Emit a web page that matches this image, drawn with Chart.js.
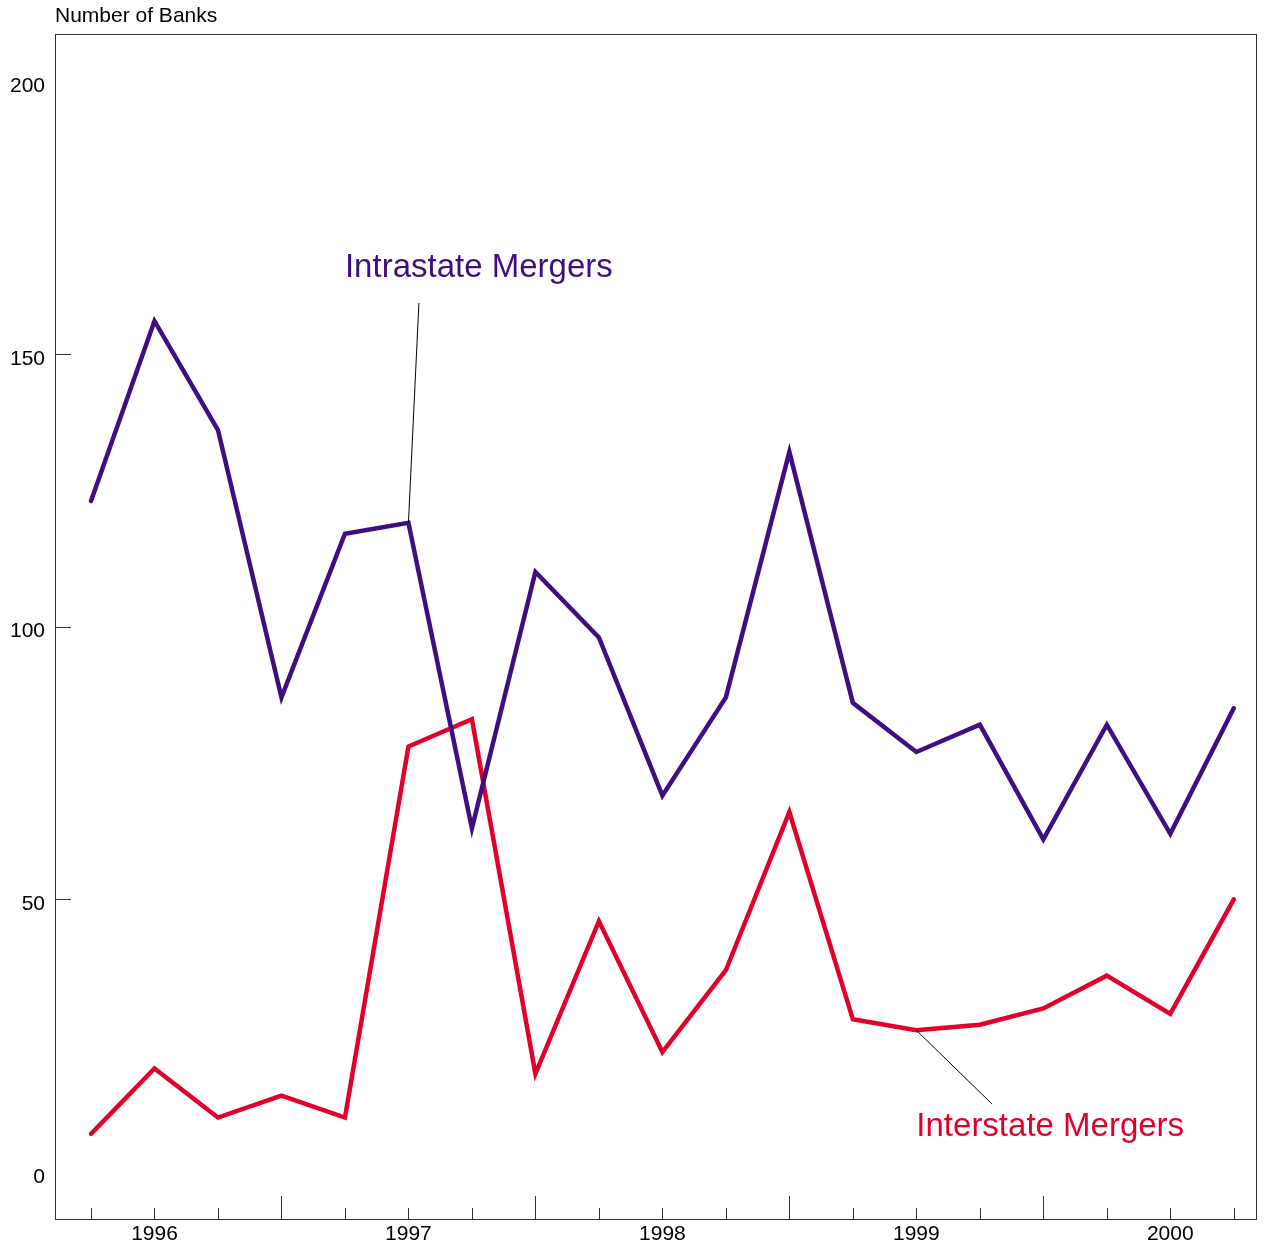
<!DOCTYPE html>
<html>
<head>
<meta charset="utf-8">
<script src="https://cdn.jsdelivr.net/npm/chart.js@4/dist/chart.umd.min.js"></script>
<style>
  html, body { margin: 0; padding: 0; background: #fff; }
  #wrap { width: 1265px; height: 1249px; }
</style>
</head>
<body>
<div id="wrap"><canvas id="mergersChart"></canvas></div>
<script>
// quarterly observations, 1996 - 2000 (index 0 = first quarter shown)
const quarters = [0, 1, 2, 3, 4, 5, 6, 7, 8, 9, 10, 11, 12, 13, 14, 15, 16, 17, 18];
const intrastate = [123, 156, 136, 87, 117, 119, 63, 110, 98, 69, 87, 132, 86, 77, 82, 61, 82, 62, 85];
const interstate = [7, 19, 10, 14, 10, 78, 83, 18, 46, 22, 37, 66, 28, 26, 27, 30, 36, 29, 50];
const yearLabels = ['1996', '1997', '1998', '1999', '2000'];
const yearLabelAt = [1, 5, 9, 13, 17];
const yearBreaks = [3, 7, 11, 15];
const yTicks = [0, 50, 100, 150, 200];
const yTickMarks = [50, 100, 150];

const PURPLE = '#3e0f82';
const RED = '#e2002b';
const AXIS = '#333';
const FONT = '"Liberation Sans", Arial, sans-serif';

function pts(vals) {
    return quarters.map((q, i) => ({ x: q, y: vals[i] }));
}

const decor = {
    id: 'decor',
    afterDatasetsDraw(chart) {
        const { ctx, chartArea: a, scales: { x, y } } = chart;
        ctx.save();
        ctx.strokeStyle = AXIS;
        ctx.lineWidth = 1;
        ctx.strokeRect(a.left + 0.5, a.top + 0.5, a.right - a.left, a.bottom - a.top);

        // inner ticks along the bottom
        ctx.beginPath();
        quarters.forEach(q => {
            const px = Math.round(x.getPixelForValue(q)) + 0.5;
            const len = yearBreaks.includes(q) ? 23 : 11;
            ctx.moveTo(px, a.bottom);
            ctx.lineTo(px, a.bottom - len);
        });
        // inner ticks on the left
        yTickMarks.forEach(v => {
            const py = Math.round(y.getPixelForValue(v)) + 0.5;
            ctx.moveTo(a.left, py);
            ctx.lineTo(a.left + 16, py);
        });
        ctx.stroke();

        // leader lines
        ctx.strokeStyle = '#000';
        ctx.beginPath();
        ctx.moveTo(x.getPixelForValue(5.165), y.getPixelForValue(159.3));
        ctx.lineTo(x.getPixelForValue(5), y.getPixelForValue(intrastate[5]));
        ctx.moveTo(x.getPixelForValue(14.19), y.getPixelForValue(12.5));
        ctx.lineTo(x.getPixelForValue(13), y.getPixelForValue(interstate[13]));
        ctx.stroke();

        // labels
        ctx.textBaseline = 'middle';
        ctx.textAlign = 'left';
        ctx.font = '33px ' + FONT;
        ctx.fillStyle = PURPLE;
        ctx.fillText('Intrastate Mergers', x.getPixelForValue(4.0), y.getPixelForValue(165.7));
        ctx.fillStyle = RED;
        ctx.fillText('Interstate Mergers', x.getPixelForValue(13.0), y.getPixelForValue(8.25));

        ctx.font = '21px ' + FONT;
        ctx.fillStyle = '#000';
        ctx.fillText('Number of Banks', a.left, 16);
        ctx.restore();
    }
};

new Chart(document.getElementById('mergersChart'), {
    type: 'line',
    data: {
        datasets: [
            { label: 'Intrastate Mergers', data: pts(intrastate), borderColor: PURPLE, borderWidth: 4.5 },
            { label: 'Interstate Mergers', data: pts(interstate), borderColor: RED, borderWidth: 4.5 }
        ]
    },
    options: {
        responsive: true,
        maintainAspectRatio: false,
        animation: false,
        layout: { padding: { top: 34, right: 9, left: 0, bottom: 0 } },
        elements: { point: { radius: 0 }, line: { tension: 0, borderCapStyle: 'round', borderJoinStyle: 'miter' } },
        plugins: { legend: { display: false }, tooltip: { enabled: false } },
        scales: {
            x: {
                type: 'linear',
                min: -0.567,
                max: 18.35,
                grid: { display: false, drawTicks: false },
                border: { display: false },
                afterBuildTicks: s => { s.ticks = yearLabelAt.map(v => ({ value: v })); },
                afterFit: s => { s.height = 30; },
                ticks: {
                    autoSkip: false,
                    maxRotation: 0,
                    padding: 3,
                    color: '#000',
                    font: { family: FONT, size: 21 },
                    callback: v => yearLabels[yearLabelAt.indexOf(v)]
                }
            },
            y: {
                min: -8.6,
                max: 208.6,
                grid: { display: false, drawTicks: false },
                border: { display: false },
                afterBuildTicks: s => { s.ticks = yTicks.map(v => ({ value: v })); },
                afterFit: s => { s.width = 55; },
                ticks: {
                    padding: 10,
                    labelOffset: 5,
                    color: '#000',
                    font: { family: FONT, size: 21 }
                }
            }
        }
    },
    plugins: [decor]
});
</script>
</body>
</html>
